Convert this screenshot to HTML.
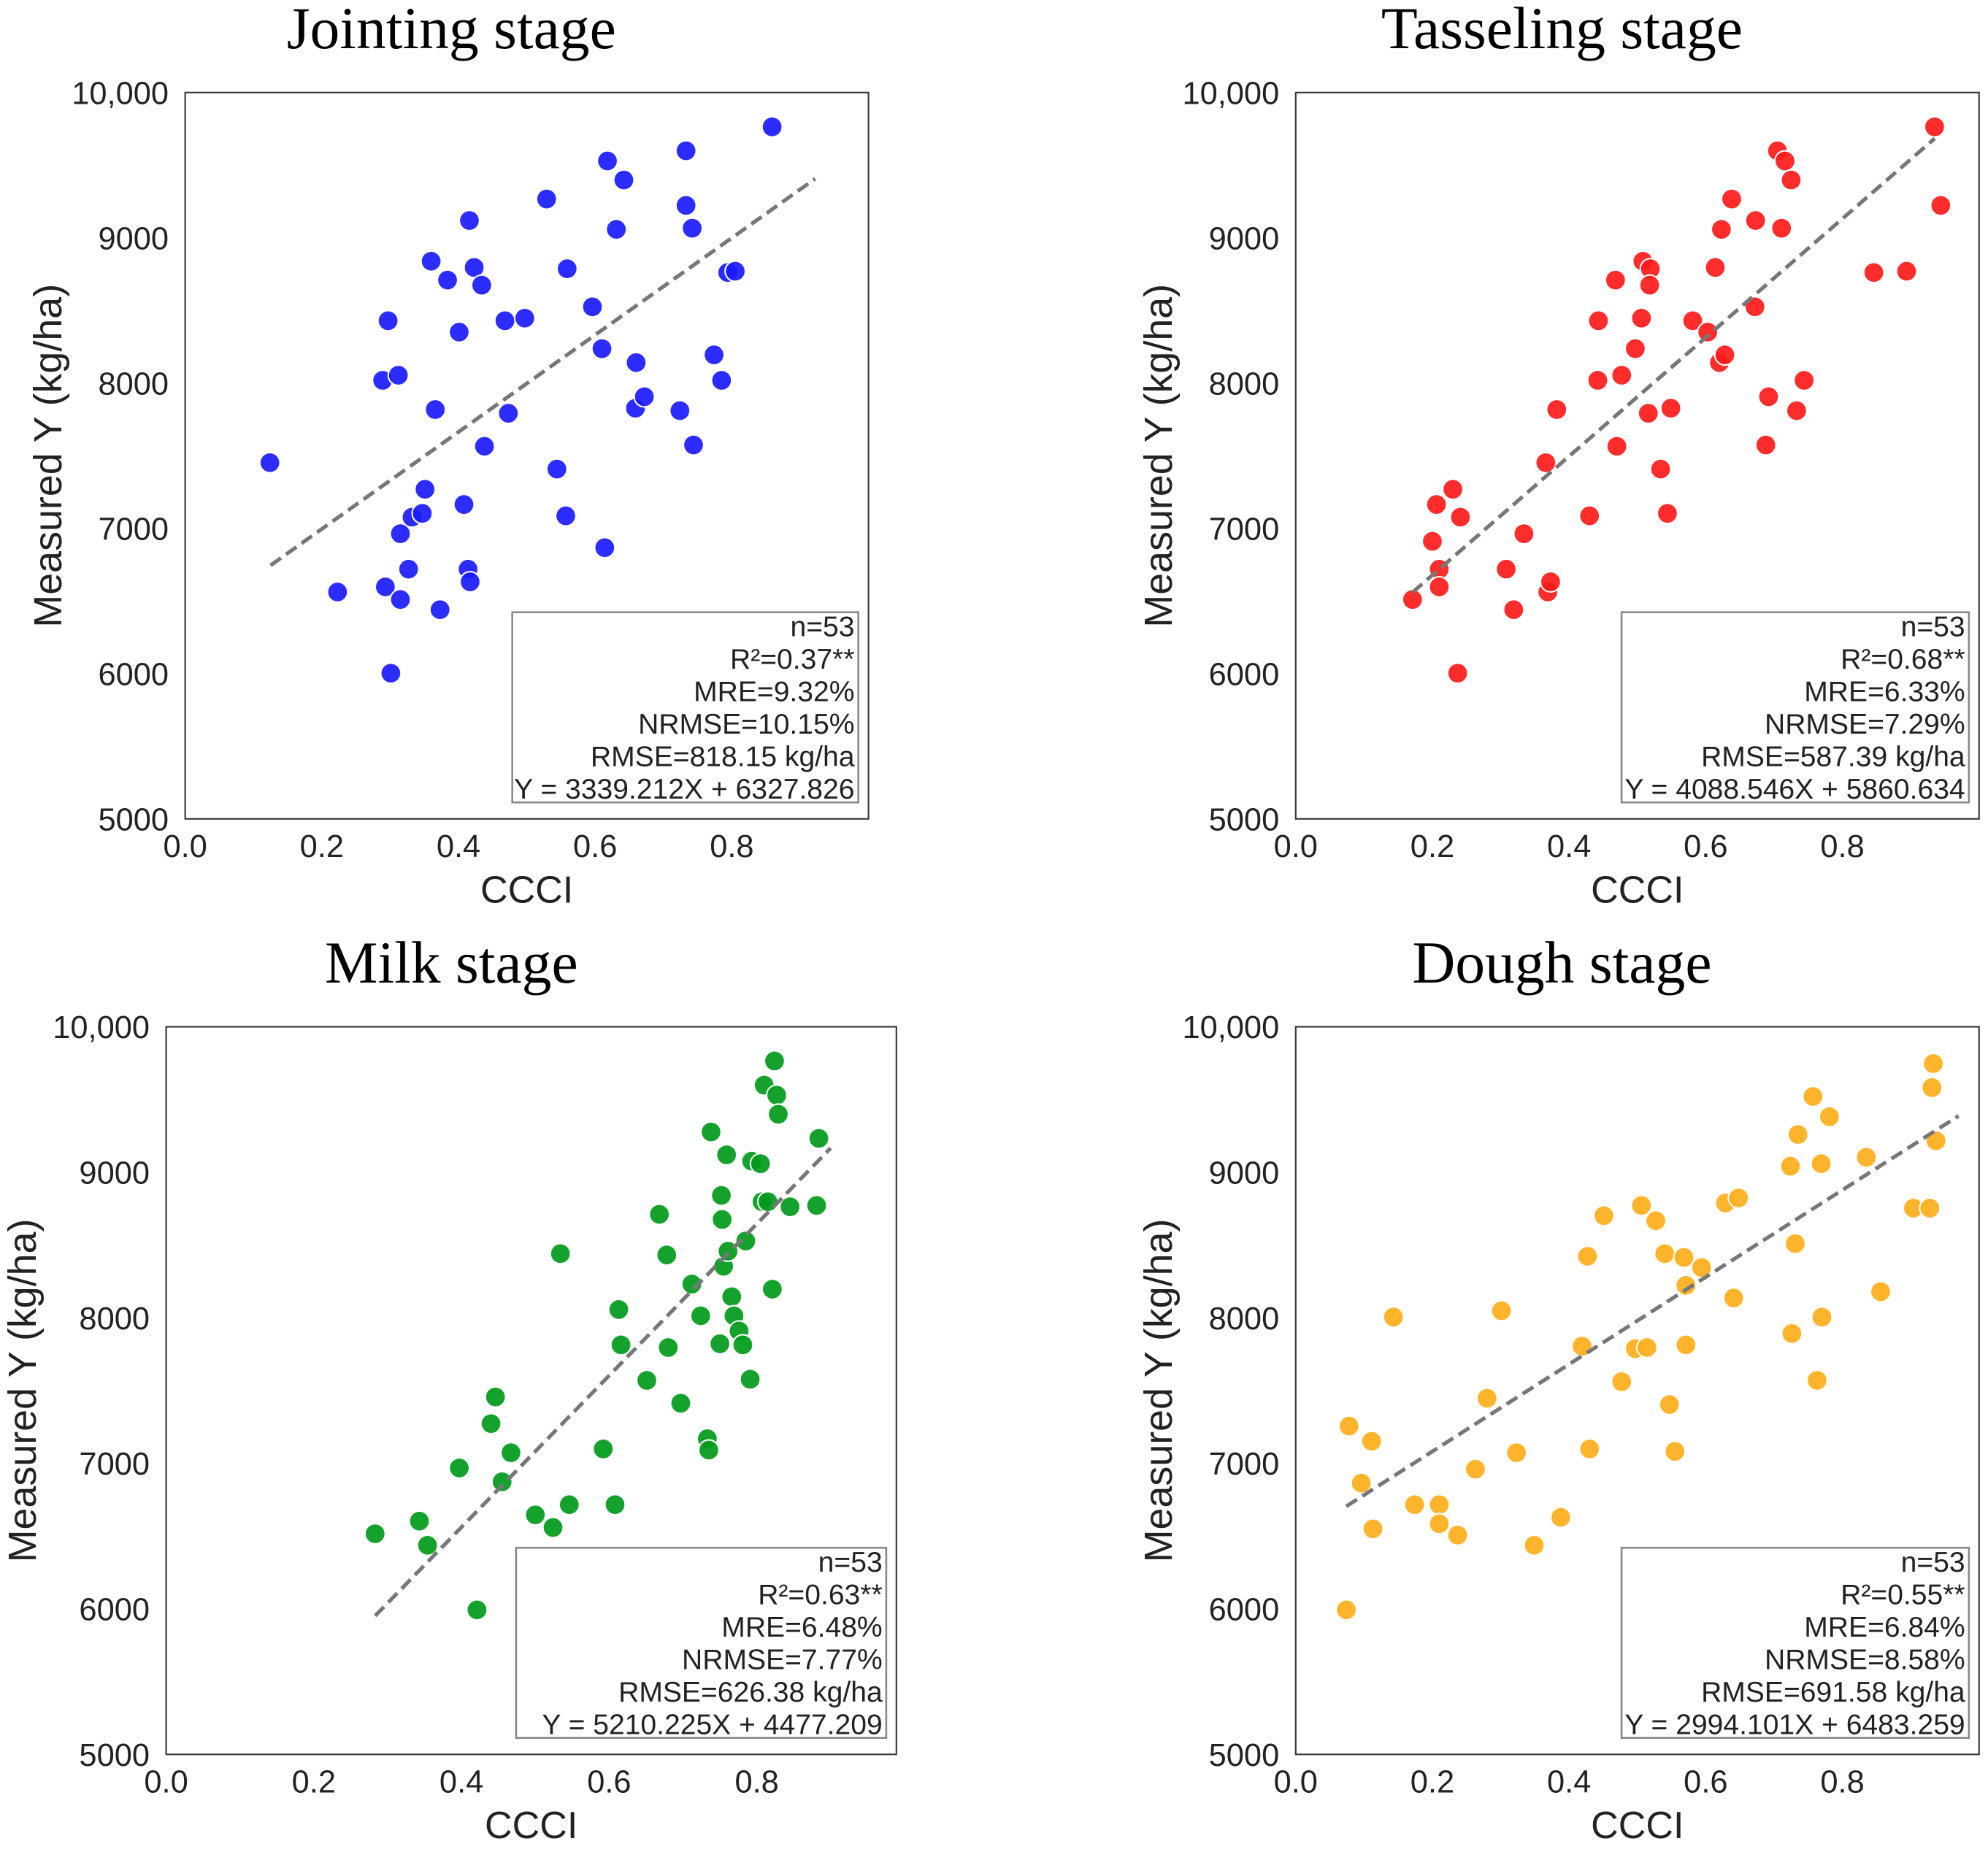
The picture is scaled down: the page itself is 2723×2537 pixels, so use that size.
<!DOCTYPE html>
<html><head><meta charset="utf-8"><style>
html,body{margin:0;padding:0;background:#fff}
svg{display:block}
text{font-family:"Liberation Sans",sans-serif;fill:#222}
.title{font-family:"Liberation Serif",serif;font-size:47px;fill:#000}
</style></head><body>
<svg id="chart" width="2723" height="2537" viewBox="0 0 1568 1461" xmlns="http://www.w3.org/2000/svg"></svg>
<script>
// ---- data ----
const jointX=[.124,.223,.297,.289,.312,.293,.301,.315,.327,.315,.332,.347,.351,.360,.366,.373,.384,.401,.408,.416,.423,.414,.417,.434,.438,.468,.473,.497,.529,.544,.557,.559,.596,.610,.614,.618,.631,.642,.659,.660,.672,.724,.733,.733,.742,.744,.774,.785,.794,.805,.859];
const jointY=[7452,6562,8429,8019,8054,6597,6003,6510,6719,6963,7077,7103,7269,8839,7818,6440,8709,8351,7164,9119,8796,6719,6632,8674,7565,8429,7792,8447,9267,7408,7086,8787,8525,8237,6867,9529,9058,9398,7827,8141,7906,7810,9223,9599,9066,7574,8194,8019,8761,8770,9764];
const tassX=[.171,.200,.206,.210,.210,.230,.241,.237,.308,.319,.334,.366,.369,.373,.382,.430,.442,.443,.468,.470,.477,.497,.508,.506,.516,.519,.518,.534,.544,.549,.581,.603,.614,.623,.620,.628,.638,.672,.673,.688,.692,.705,.711,.716,.725,.733,.744,.846,.894,.935,.944];
const tassY=[6510,6911,7164,6719,6597,7269,7077,6003,6719,6440,6963,7452,6562,6632,7818,7086,8019,8429,8709,7565,8054,8237,8839,8447,7792,8787,8674,7408,7103,7827,8429,8351,8796,9058,8141,8194,9267,8525,9119,7574,7906,9599,9066,9529,9398,7810,8019,8761,8770,9764,9223];
const milkX=[.283,.343,.354,.421,.397,.440,.446,.455,.467,.500,.524,.534,.546,.592,.608,.613,.616,.651,.668,.678,.680,.697,.712,.724,.733,.735,.738,.750,.752,.753,.755,.759,.761,.766,.769,.776,.781,.785,.791,.793,.805,.807,.810,.815,.821,.824,.827,.829,.845,.881,.884];
const milkY=[6516,6603,6437,5993,6968,7273,7456,6873,7073,6646,6559,8441,6716,7099,6716,8057,7814,7570,8711,8432,7796,7413,8232,8014,7169,7091,9277,7822,8841,8676,8354,9120,8458,8145,8014,7909,7814,8528,7578,9077,9059,8798,9599,8798,8197,9765,9530,9399,8763,8772,9233];
const doughX=[.074,.078,.096,.111,.113,.143,.174,.210,.210,.237,.263,.280,.301,.323,.349,.388,.419,.427,.430,.451,.477,.497,.506,.514,.527,.540,.547,.555,.568,.571,.571,.594,.629,.641,.648,.724,.726,.731,.735,.757,.763,.769,.770,.781,.835,.856,.904,.928,.931,.933,.937];
const doughY=[5993,7256,6864,7152,6550,8005,6716,6716,6585,6507,6960,7447,8049,7073,6437,6629,7805,8423,7099,8702,7561,7788,8772,7796,8667,8441,7404,7082,8415,8223,7814,8345,8789,8136,8824,9042,7892,8510,9260,9521,7570,9059,8005,9382,9103,8180,8754,8754,9582,9747,9216];
const slopes=[3339.212,4088.546,5210.225,2994.101];
const intercepts=[6327.826,5860.634,4477.209,6483.259];
const lineRanges=[[0.125,0.922],[0.171,0.935],[0.283,0.90],[0.074,0.97]];
const titles=["Jointing stage","Tasseling stage","Milk stage","Dough stage"];
const stats=[
 ["n=53","R²=0.37**","MRE=9.32%","NRMSE=10.15%","RMSE=818.15 kg/ha","Y = 3339.212X + 6327.826"],
 ["n=53","R²=0.68**","MRE=6.33%","NRMSE=7.29%","RMSE=587.39 kg/ha","Y = 4088.546X + 5860.634"],
 ["n=53","R²=0.63**","MRE=6.48%","NRMSE=7.77%","RMSE=626.38 kg/ha","Y = 5210.225X + 4477.209"],
 ["n=53","R²=0.55**","MRE=6.84%","NRMSE=8.58%","RMSE=691.58 kg/ha","Y = 2994.101X + 6483.259"]];
const yTicks=[5000,6000,7000,8000,9000,10000];
const yTickLabels=["5000","6000","7000","8000","9000","10,000"];
const xTicks=[0,0.2,0.4,0.6,0.8];
const xTickLabels=["0.0","0.2","0.4","0.6","0.8"];

const svg=document.getElementById('chart');
const NS='http://www.w3.org/2000/svg';
function mk(tag,attrs,parent){const e=document.createElementNS(NS,tag);for(const k in attrs)e.setAttribute(k,attrs[k]);(parent||svg).appendChild(e);return e;}
const panels=[
 {id:'jointing',L:146,R:685,T:73,B:646,xmax:1.0,X:jointX,Y:jointY,col:'#1a1aff',lg:[404,677,483],titleX:356,ylx:40},
 {id:'tasseling',L:1022,R:1561,T:73,B:646,xmax:1.0,X:tassX,Y:tassY,col:'#ff1a1a',lg:[1279,1553,483],titleX:1232,ylx:916},
 {id:'milk',L:131,R:707,T:810,B:1384,xmax:0.989,X:milkX,Y:milkY,col:'#009a1a',lg:[407,699,1221],titleX:356,ylx:20},
 {id:'dough',L:1022,R:1561,T:810,B:1384,xmax:1.0,X:doughX,Y:doughY,col:'#ffae1a',lg:[1279,1553,1221],titleX:1232,ylx:916}];
panels.forEach((p,i)=>{
 const g=mk('g',{});
 
 
 const sx=v=>p.L+(v/p.xmax)*(p.R-p.L);
 const sy=v=>p.B-(v-5000)/5000*(p.B-p.T);
 const t=mk('text',{x:p.titleX,y:p.T-35,'text-anchor':'middle',class:'title'},g);t.textContent=titles[i];
 
 const fr=mk('rect',{x:p.L,y:p.T,width:p.R-p.L,height:p.B-p.T,fill:'none',stroke:'#333','stroke-width':1.2},g);
 
 yTicks.forEach((v,j)=>{const e=mk('text',{x:p.L-13,y:sy(v)+9,'text-anchor':'end','font-size':25},g);e.textContent=yTickLabels[j];
  });
 xTicks.forEach((v,j)=>{const e=mk('text',{x:sx(v),y:p.B+30,'text-anchor':'middle','font-size':25},g);e.textContent=xTickLabels[j];
  });
 const xl=mk('text',{x:(p.L+p.R)/2,y:p.B+66,'text-anchor':'middle','font-size':30},g);xl.textContent='CCCI';
 
 const cy=(p.T+p.B)/2;
 const yl=mk('text',{x:p.ylx,y:cy,'text-anchor':'middle','font-size':31,transform:'rotate(-90 '+p.ylx+' '+cy+')','dominant-baseline':'middle'},g);yl.textContent='Measured Y (kg/ha)';
 
 p.X.forEach((x,k)=>{const c=mk('circle',{cx:sx(x),cy:sy(p.Y[k]),r:8,fill:p.col,'fill-opacity':0.92,stroke:'#fff','stroke-width':1.2},g);
  });
 const [a,b]=lineRanges[i];
 const ln=mk('line',{x1:sx(a),y1:sy(slopes[i]*a+intercepts[i]),x2:sx(b),y2:sy(slopes[i]*b+intercepts[i]),stroke:'#777','stroke-width':3,'stroke-dasharray':'10,5'},g);
 
 const [l,r,top]=p.lg;
 const lb=mk('rect',{x:l,y:top,width:r-l,height:150,fill:'#fff',stroke:'#888','stroke-width':1.5},g);
 
 stats[i].forEach((s,k)=>{const e=mk('text',{x:r-3,y:top+19+k*25.6,'text-anchor':'end','font-size':22.5},g);e.textContent=s;
  });
});
</script>
</body></html>
